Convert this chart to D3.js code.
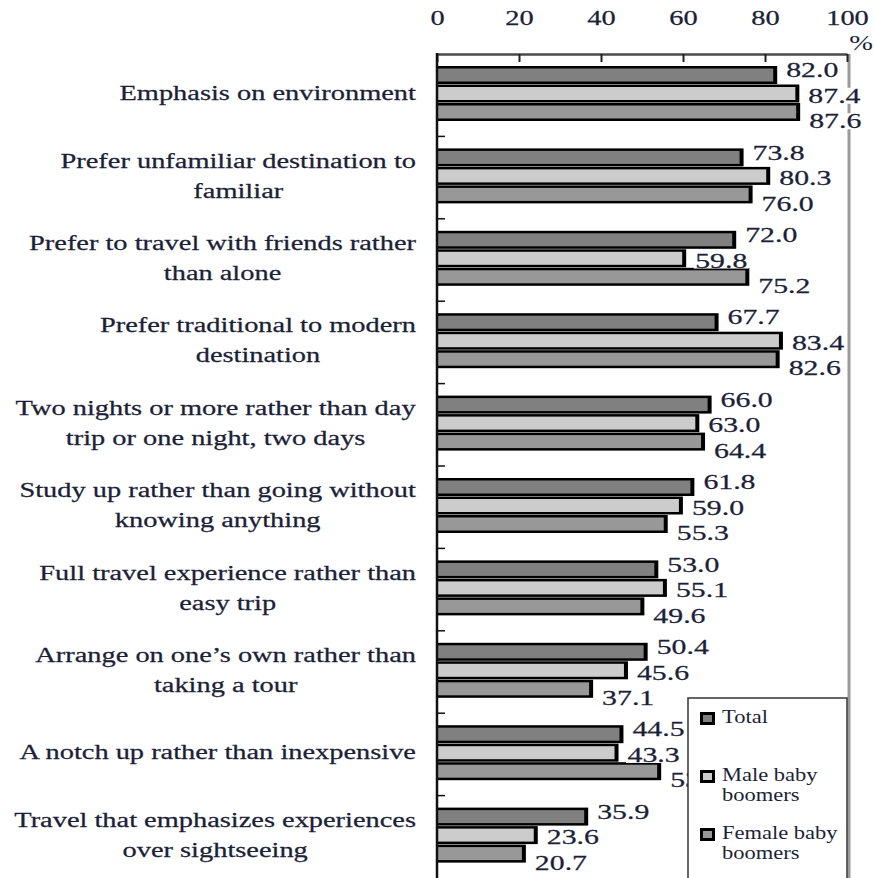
<!DOCTYPE html>
<html>
<head>
<meta charset="utf-8">
<script src="https://cdn.jsdelivr.net/npm/d3@7"></script>
<style>
  body { margin: 0; background: #fff; }
  text { font-family: "Liberation Serif", "Times New Roman", serif; }
</style>
</head>
<body>
<script>
// Width and height
var w = 874;
var h = 878;

// Data
var categories = [
  "Emphasis on environment",
  "Prefer unfamiliar destination to\nfamiliar",
  "Prefer to travel with friends rather\nthan alone",
  "Prefer traditional to modern\ndestination",
  "Two nights or more rather than day\ntrip or one night, two days",
  "Study up rather than going without\nknowing anything",
  "Full travel experience rather than\neasy trip",
  "Arrange on one\u2019s own rather than\ntaking a tour",
  "A notch up rather than inexpensive",
  "Travel that emphasizes experiences\nover sightseeing"
];
var seriesNames = ["Total", "Male baby\nboomers", "Female baby\nboomers"];
var total  = [82.0, 73.8, 72.0, 67.7, 66.0, 61.8, 53.0, 50.4, 44.5, 35.9];
var male   = [87.4, 80.3, 59.8, 83.4, 63.0, 59.0, 55.1, 45.6, 43.3, 23.6];
var female = [87.6, 76.0, 75.2, 82.6, 64.4, 55.3, 49.6, 37.1, 53.7, 20.7];
var xTicks = [0, 20, 40, 60, 80, 100];

var series = [total, male, female];
var fills = ["#808080", "#cccccc", "#989898"];
var labelDy = [2, 9, 16];    // value labels fan out below their bar
var sx = 1.42;               // text in the picture is stretched horizontally
var inkText = "#1c1f38";

var svg = d3.select("body")
    .append("svg")
    .attr("width", w)
    .attr("height", h);

// Scales
var x = d3.scaleLinear().domain([0, 100]).range([437, 847]);
var y0 = d3.scaleBand().domain(d3.range(categories.length)).range([54, 878]);
var y1 = d3.scaleBand().domain(d3.range(series.length)).range([12, 67.5]);

var rows = [];
categories.forEach(function (c, i) {
  series.forEach(function (s, j) { rows.push({cat: i, ser: j, v: s[i]}); });
});

// Right frame line (grey)
svg.append("line")
    .attr("x1", 849).attr("x2", 849)
    .attr("y1", 54).attr("y2", h)
    .attr("stroke", "#9a9a9a")
    .attr("stroke-width", 3);

// Bars: black outline/shadow, then fill inset
var bars = svg.append("g").attr("id", "bars");

bars.selectAll("rect.outline")
  .data(rows)
  .enter().append("rect")
    .attr("class", "outline")
    .attr("x", x(0))
    .attr("y", d => y0(d.cat) + y1(d.ser))
    .attr("width", d => x(d.v) - x(0) + 4)
    .attr("height", y1.bandwidth() - 0.5)
    .attr("fill", "#000");

bars.selectAll("rect.fill")
  .data(rows)
  .enter().append("rect")
    .attr("class", "fill")
    .attr("x", x(0))
    .attr("y", d => y0(d.cat) + y1(d.ser) + 2.5)
    .attr("width", d => x(d.v) - x(0))
    .attr("height", y1.bandwidth() - 5.5)
    .attr("fill", d => fills[d.ser]);

// Value labels with small white backgrounds
var vl = svg.append("g").attr("id", "values")
  .selectAll("g")
  .data(rows)
  .enter().append("g")
    .attr("transform", d => `translate(${x(d.v) + 13}, ${y0(d.cat) + y1(d.ser) + y1.bandwidth() / 2 + labelDy[d.ser]}) scale(${sx},1)`);

vl.append("text")
    .attr("font-size", 21)
    .attr("fill", inkText)
    .attr("stroke", inkText)
    .attr("stroke-width", 0.25)
    .text(d => d.v.toFixed(1));

vl.each(function () {
  var g = d3.select(this);
  var bw = g.select("text").node().getBBox().width;
  g.insert("rect", "text")
      .attr("x", -1).attr("y", -15)
      .attr("width", bw + 2).attr("height", 16)
      .attr("fill", "#fff");
});

// Top axis
var xAxis = svg.append("g")
    .attr("transform", "translate(0,54)")
    .call(d3.axisTop(x).tickValues(xTicks).tickSize(-8).tickSizeOuter(0).tickFormat(d3.format("d")));

xAxis.select(".domain").attr("stroke", "#4a4a4a").attr("stroke-width", 2.5);
xAxis.selectAll(".tick line").attr("stroke", "#222").attr("stroke-width", 2);
xAxis.selectAll(".tick text")
    .attr("y", -29)
    .attr("dy", 0)
    .attr("font-size", 20)
    .attr("fill", inkText)
    .attr("stroke", inkText)
    .attr("stroke-width", 0.25)
    .attr("font-family", "Liberation Serif, serif")
    .attr("transform", `scale(${sx},1)`);

svg.append("text")
    .attr("transform", `translate(861,50) scale(${sx},1)`)
    .attr("text-anchor", "middle")
    .attr("font-size", 20)
    .attr("fill", inkText)
    .text("%");

// Left axis with ticks between categories
svg.append("line")
    .attr("x1", x(0)).attr("x2", x(0))
    .attr("y1", 53).attr("y2", h)
    .attr("stroke", "#111")
    .attr("stroke-width", 2.5);

svg.append("g").selectAll("line")
  .data(d3.range(1, categories.length))
  .enter().append("line")
    .attr("x1", x(0)).attr("x2", x(0) + 8)
    .attr("y1", d => y0(d)).attr("y2", d => y0(d))
    .attr("stroke", "#111")
    .attr("stroke-width", 1.5);

// Category labels, lines centred, block right-aligned
var cl = svg.append("g").attr("id", "cats")
  .selectAll("g")
  .data(categories)
  .enter().append("g")
    .attr("transform", (d, i) => `translate(416, ${y0(i) + y0.bandwidth() / 2 + 5}) scale(${sx},1)`);

cl.each(function (d) {
  var lines = d.split("\n");
  var t = d3.select(this).append("text")
      .attr("font-size", 20)
      .attr("fill", inkText)
      .attr("stroke", inkText)
      .attr("stroke-width", 0.25)
      .attr("text-anchor", "middle");
  lines.forEach(function (ln, k) {
    t.append("tspan")
        .attr("x", 0)
        .attr("y", (k - (lines.length - 1) / 2) * 30)
        .text(ln);
  });
  var bw = t.node().getBBox().width;
  t.selectAll("tspan").attr("x", -bw / 2);
});

// Legend
var legend = svg.append("g").attr("transform", "translate(688,698)");

legend.append("rect")
    .attr("width", 159).attr("height", 182)
    .attr("fill", "#fff")
    .attr("stroke", "#333")
    .attr("stroke-width", 1.5);

var legY = [14, 72, 130];

var li = legend.selectAll("g.item")
  .data(seriesNames)
  .enter().append("g")
    .attr("class", "item")
    .attr("transform", (d, i) => `translate(12, ${legY[i]})`);

li.append("rect")
    .attr("x", 1.5).attr("y", 1.5)
    .attr("width", 12).attr("height", 10)
    .attr("fill", (d, i) => fills[i])
    .attr("stroke", "#000")
    .attr("stroke-width", 3);

li.each(function (d) {
  var t = d3.select(this).append("text")
      .attr("transform", "translate(22,11) scale(1.25,1)")
      .attr("font-size", 18)
      .attr("fill", inkText);
  d.split("\n").forEach(function (ln, k) {
    t.append("tspan").attr("x", 0).attr("y", k * 20).text(ln);
  });
});
</script>
</body>
</html>
